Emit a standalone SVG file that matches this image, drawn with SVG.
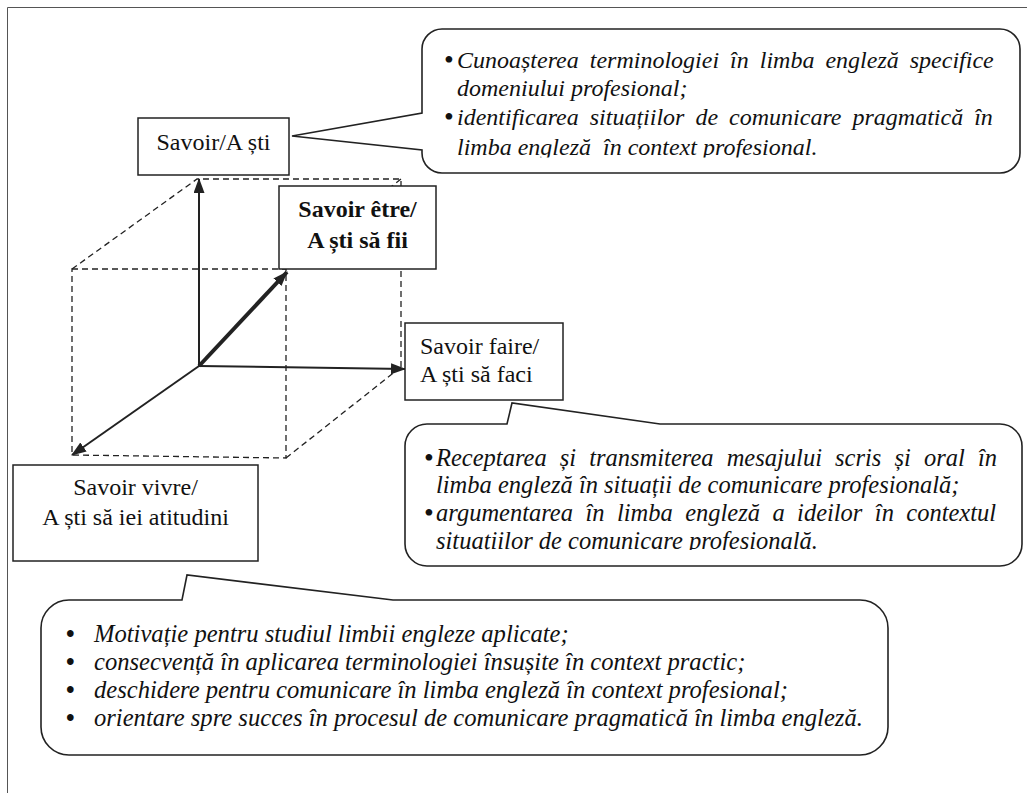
<svg xmlns="http://www.w3.org/2000/svg" width="1027" height="793" viewBox="0 0 1027 793">
<style>
.frame{stroke:#555;stroke-width:1;fill:none}
.box{fill:#fff;stroke:#222;stroke-width:1.5}
.call{fill:#fff;stroke:#222;stroke-width:1.6;stroke-linejoin:miter}
.dash{fill:none;stroke:#222;stroke-width:1.3;stroke-dasharray:6 4}
.ax{stroke:#222;stroke-width:2;fill:none;marker-end:url(#ah)}
.axb{stroke:#222;stroke-width:4;fill:none;marker-end:url(#ah)}
.t{font-family:"Liberation Serif","Times New Roman",serif;font-size:24px;fill:#111}
.b{font-weight:bold}
.i{font-style:italic}
.m{text-anchor:middle}
.c2{font-size:24.5px}
.c3{font-size:24.6px}
.bu{font-size:28px}
.bu3{font-size:24.6px;font-weight:bold}
</style>
<defs>
<marker id="ah" markerUnits="userSpaceOnUse" markerWidth="15" markerHeight="11" refX="14" refY="5.5" orient="auto">
<path d="M0,0 L15,5.5 L0,11 Z" fill="#222"/>
</marker>
<clipPath id="c1"><rect x="422" y="29" width="598" height="128.5"/></clipPath>
<clipPath id="c2"><rect x="405" y="424" width="617" height="126"/></clipPath>
</defs>

<g id="frame">
<path class="frame" d="M7.5,793 V7.5 H1027"/>
</g>

<g id="cube">
<path class="dash" d="M72,269 L197,179 H401 V367"/>
<path class="dash" d="M286,269 L401,179"/>
<path class="dash" d="M72,269 H286 V458 L72,455 Z"/>
<path class="dash" d="M286,458 L401,367"/>
</g>

<g id="connectors">
<line class="ax" x1="199" y1="366" x2="199" y2="179"/>
<line class="ax" x1="199" y1="366" x2="405" y2="369"/>
<line class="axb" x1="199" y1="366" x2="287" y2="272"/>
<line class="ax" x1="199" y1="366" x2="72" y2="455"/>
</g>

<g id="node-savoir">
<rect class="box" x="138" y="118" width="151" height="57"/>
<text class="t m" x="213.5" y="150">Savoir/A ști</text>
</g>

<g id="node-savoir-etre">
<rect class="box" x="279" y="186" width="157" height="83"/>
<text class="t b m" x="357.5" y="217">Savoir être/</text>
<text class="t b m" x="357.5" y="248">A ști să fii</text>
</g>

<g id="node-savoir-faire">
<rect class="box" x="405" y="323" width="158" height="77"/>
<text class="t" x="420" y="354">Savoir faire/</text>
<text class="t" x="420" y="382">A ști să faci</text>
</g>

<g id="node-savoir-vivre">
<rect class="box" x="13" y="465" width="245" height="96"/>
<text class="t m" x="135.5" y="495">Savoir vivre/</text>
<text class="t m" x="135.5" y="525">A ști să iei atitudini</text>
</g>

<g id="callout-savoir">
<path class="call" d="M442,29 H1000 A20,20 0 0 1 1020,49 V153 A20,20 0 0 1 1000,173 H442 A20,20 0 0 1 422,153 V150 L292,136 L422,113 V49 A20,20 0 0 1 442,29 Z"/>
<g clip-path="url(#c1)">
<text class="t bu" x="444" y="69">•</text>
<text class="t i" x="457" y="68" word-spacing="5">Cunoașterea terminologiei în limba engleză specifice</text>
<text class="t i" x="457" y="96">domeniului profesional;</text>
<text class="t bu" x="444" y="126">•</text>
<text class="t i" x="457" y="125" word-spacing="5">identificarea situațiilor de comunicare pragmatică în</text>
<text class="t i" x="457" y="155" xml:space="preserve">limba engleză  în context profesional.</text>
</g>
</g>

<g id="callout-savoir-faire">
<path class="call" d="M427,424 H507 L512,403 L660,424 H1000 A22,22 0 0 1 1022,446 V544 A22,22 0 0 1 1000,566 H427 A22,22 0 0 1 405,544 V446 A22,22 0 0 1 427,424 Z"/>
<g clip-path="url(#c2)">
<text class="t bu" x="424" y="467">•</text>
<text class="t i c2" x="436" y="466" word-spacing="7">Receptarea și transmiterea mesajului scris și oral în</text>
<text class="t i c2" x="436" y="493">limba engleză în situații de comunicare profesională;</text>
<text class="t bu" x="424" y="522">•</text>
<text class="t i c2" x="436" y="521" word-spacing="6.3">argumentarea în limba engleză a ideilor în contextul</text>
<text class="t i c2" x="436" y="549">situațiilor de comunicare profesională.</text>
</g>
</g>

<g id="callout-savoir-vivre">
<path class="call" d="M69,600 H182 L187,575 L393,600 H860 A28,28 0 0 1 888,628 V727 A28,28 0 0 1 860,755 H69 A28,28 0 0 1 41,727 V628 A28,28 0 0 1 69,600 Z"/>
<text class="t bu3" x="66" y="642">•</text>
<text class="t i c3" x="94" y="642">Motivație pentru studiul limbii engleze aplicate;</text>
<text class="t bu3" x="66" y="670">•</text>
<text class="t i c3" x="94" y="670">consecvență în aplicarea terminologiei însușite în context practic;</text>
<text class="t bu3" x="66" y="698">•</text>
<text class="t i c3" x="94" y="698">deschidere pentru comunicare în limba engleză în context profesional;</text>
<text class="t bu3" x="66" y="726">•</text>
<text class="t i c3" x="94" y="726">orientare spre succes în procesul de comunicare pragmatică în limba engleză.</text>
</g>
</svg>
